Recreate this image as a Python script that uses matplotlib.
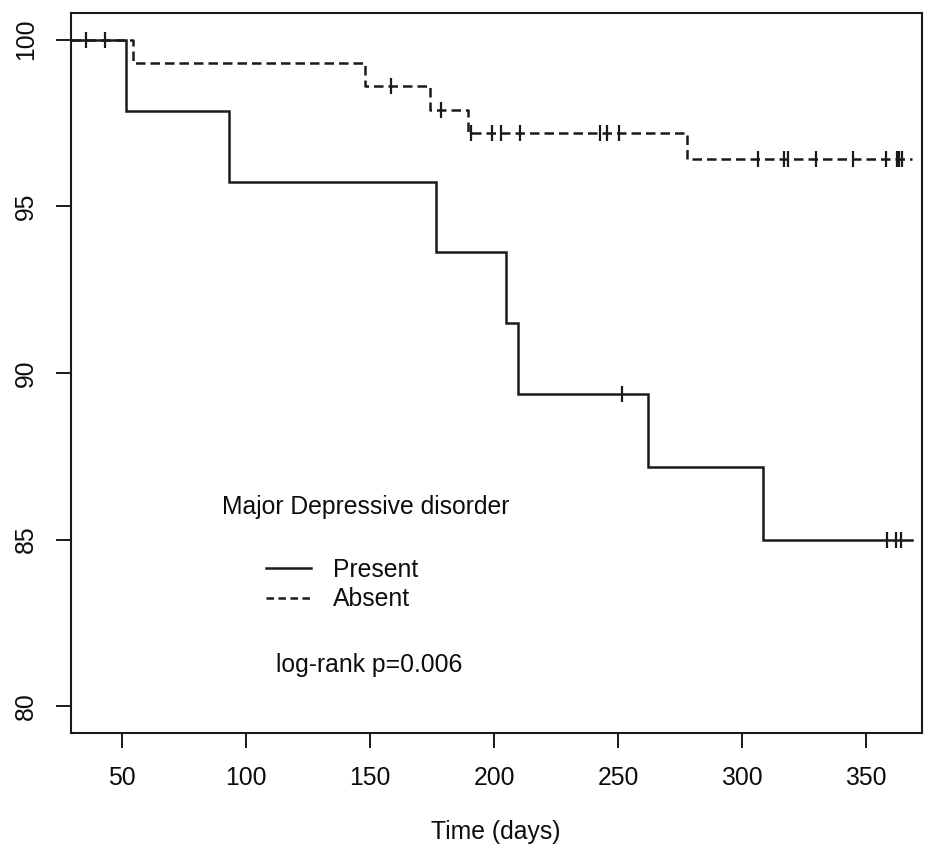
import numpy as np
import matplotlib
matplotlib.use("Agg")
import matplotlib.pyplot as plt
from matplotlib.lines import Line2D

plt.rcParams['font.family'] = ['Liberation Sans', 'DejaVu Sans']

# Kaplan-Meier estimates (%), event days and survival after each event
present_event_days = [51.5, 93, 176.5, 205, 209.5, 262, 308.5]
present_surv = [97.87, 95.74, 93.62, 91.49, 89.36, 87.18, 85.0]
present_censor_days = [251.5, 358.3, 362.3, 364.3]
present_last_day = 368.4

absent_event_days = [54.3, 148, 174, 189.4, 277.7]
absent_surv = [99.31, 98.6, 97.9, 97.2, 96.42]
absent_censor_days = [35.5, 43, 158.5, 178.6, 190.7, 199.3, 202.8, 210.5,
                      242.7, 245.4, 250.5, 306.3, 317.1, 318.4, 329.8,
                      344.9, 357.9, 362.4, 363.5, 364.4]
absent_last_day = 368.4

x_ticks = [50, 100, 150, 200, 250, 300, 350]
y_ticks = [80, 85, 90, 95, 100]
group_labels = ["Present", "Absent"]
legend_title = "Major Depressive disorder"
p_text = "log-rank p=0.006"
x_label = "Time (days)"

W, H = 932, 848
fig = plt.figure(figsize=(W / 100, H / 100), dpi=100)
ax = fig.add_axes([71 / W, 1 - 733 / H, (922 - 71) / W, (733 - 13) / H])

col = '#1a1a1a'
txt = '#0d0d0d'
lw = 1.8
fs = 17.8


def km_curve(event_days, surv, last_day):
    t = np.concatenate([[0.0], event_days, [last_day]])
    s = np.concatenate([[100.0], surv, [surv[-1]]])
    return t, s


def surv_at(days, event_days, surv):
    s = np.concatenate([[100.0], surv])
    idx = np.searchsorted(event_days, days, side='right')
    return s[idx]


t, s = km_curve(present_event_days, present_surv, present_last_day)
ax.step(t, s, where='post', color=col, lw=lw, solid_joinstyle='miter')
ax.plot(present_censor_days,
        surv_at(present_censor_days, present_event_days, present_surv),
        ls='none', marker='|', ms=11, mew=1.6, color=col)

t, s = km_curve(absent_event_days, absent_surv, absent_last_day)
ax.step(t, s, where='post', color=col, lw=lw, dashes=(3.8, 2.0))
ax.plot(absent_censor_days,
        surv_at(absent_censor_days, absent_event_days, absent_surv),
        ls='none', marker='|', ms=11, mew=1.6, color=col)

ax.set_xlim(29.4, 372.6)
ax.set_ylim(79.2, 100.8)
ax.set_xticks(x_ticks)
ax.set_yticks(y_ticks)
ax.set_xticklabels([str(v) for v in x_ticks])
ax.set_yticklabels([str(v) for v in y_ticks], rotation=90, va='center')

for sp in ax.spines.values():
    sp.set_linewidth(1.5)
    sp.set_color(col)

ax.tick_params(axis='both', direction='out', length=10.5, width=1.4,
               colors=col, labelsize=fs, labelcolor=txt)
ax.tick_params(axis='x', pad=13)
ax.tick_params(axis='y', pad=13)

fig.text(496 / W, 1 - 832 / H, x_label, ha='center', va='center',
         fontsize=fs, color=txt)

# legend block
fig.text(222 / W, 1 - 507 / H, legend_title, ha='left', va='center',
         fontsize=fs, color=txt)
handles = [Line2D([], [], color=col, lw=lw),
           Line2D([], [], color=col, lw=lw, dashes=(3.0, 1.8))]
fig.legend(handles, group_labels, loc='upper left',
           bbox_to_anchor=(266 / W, 1 - 558 / H), frameon=False,
           fontsize=fs, handlelength=1.8, handletextpad=0.9,
           labelspacing=0.22, borderpad=0, borderaxespad=0,
           labelcolor=txt)
fig.text(276 / W, 1 - 665 / H, p_text, ha='left', va='center',
         fontsize=fs, color=txt)

fig.savefig("out.png", dpi=100)
